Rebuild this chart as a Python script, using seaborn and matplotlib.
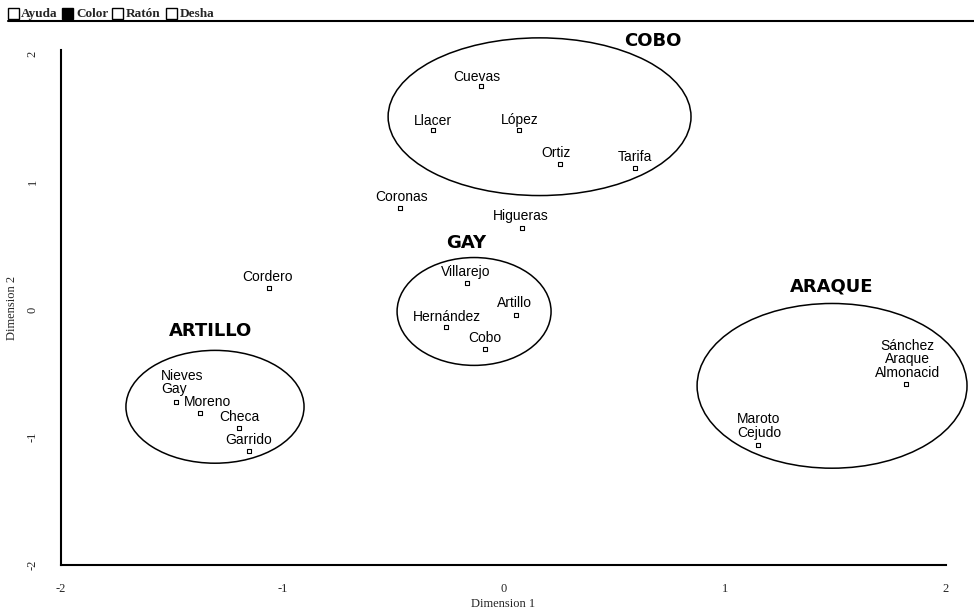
import matplotlib
matplotlib.use("Agg")
import matplotlib.pyplot as plt
from matplotlib.patches import Ellipse, Rectangle
from matplotlib.lines import Line2D
import seaborn as sns
import pandas as pd

# point labels and MDS coordinates
names = ["Cuevas", "Llacer", "López", "Ortiz", "Tarifa", "Coronas", "Higueras",
         "Cordero", "Villarejo", "Artillo", "Hernández", "Cobo",
         "Nieves\nGay", "Moreno", "Checa", "Garrido",
         "Sánchez\nAraque\nAlmonacid", "Maroto\nCejudo"]
dim1 = [-0.10, -0.32, 0.07, 0.255, 0.595, -0.47, 0.085,
        -1.06, -0.165, 0.055, -0.26, -0.085,
        -1.48, -1.37, -1.195, -1.15,
        1.82, 1.15]
dim2 = [1.75, 1.405, 1.405, 1.135, 1.11, 0.79, 0.635,
        0.165, 0.205, -0.04, -0.14, -0.31,
        -0.725, -0.81, -0.93, -1.11,
        -0.58, -1.06]

# clusters drawn as ellipses
cluster_names = ["COBO", "GAY", "ARTILLO", "ARAQUE"]
cluster_cx = [0.163, -0.133, -1.304, 1.485]
cluster_cy = [1.508, -0.016, -0.762, -0.598]
cluster_w = [1.369, 0.696, 0.805, 1.220]
cluster_h = [1.234, 0.844, 0.883, 1.289]
cluster_title_x = [0.676, -0.17, -1.326, 1.485]
cluster_title_y = [2.10, 0.52, -0.165, 0.18]

toolbar_items = ["Ayuda", "Color", "Ratón", "Desha"]

# label placement relative to the marker (pixels): dx, dy, alignment
label_style = {
    "Cuevas": (-5, 5, "center"), "Llacer": (0, 5, "center"), "López": (1, 6, "center"),
    "Ortiz": (-4, 7, "center"), "Tarifa": (0, 7, "center"), "Coronas": (2, 7, "center"),
    "Higueras": (-2, 8, "center"), "Cordero": (-1, 7, "center"),
    "Villarejo": (-1, 7, "center"), "Artillo": (-1, 8, "center"),
    "Hernández": (1, 6, "center"), "Cobo": (0, 7, "center"),
    "Nieves\nGay": (-15, 9, "left"), "Moreno": (7, 7, "center"),
    "Checa": (0, 7, "center"), "Garrido": (0, 7, "center"),
    "Sánchez\nAraque\nAlmonacid": (1, 7, "center"), "Maroto\nCejudo": (1, 8, "center"),
}

df = pd.DataFrame({"name": names, "dim1": dim1, "dim2": dim2})

sns.set_style("white")
plt.rcParams["font.family"] = ["Liberation Sans", "DejaVu Sans"]

W, H = 974, 613
fig = plt.figure(figsize=(W / 100, H / 100), dpi=100)
ax = fig.add_axes([61 / W, 1 - 565 / H, (946 - 61) / W, (565 - 50) / H])

sns.scatterplot(data=df, x="dim1", y="dim2", ax=ax, marker="s", s=10,
                facecolor="white", edgecolor="black", linewidth=0.8, zorder=3)

for n, x, y in zip(names, dim1, dim2):
    dx, dy, ha = label_style[n]
    ax.annotate(n, (x, y), xytext=(dx, dy), textcoords="offset pixels",
                ha=ha, va="baseline", fontsize=10, linespacing=0.95,
                multialignment=ha, color="black")

for name, cx, cy, w, h, tx, ty in zip(cluster_names, cluster_cx, cluster_cy,
                                      cluster_w, cluster_h, cluster_title_x, cluster_title_y):
    ax.add_patch(Ellipse((cx, cy), w, h, fill=False, edgecolor="black",
                         linewidth=1.1, clip_on=False))
    ax.text(tx, ty, name, ha="center", va="center", fontsize=13,
            family="DejaVu Sans", fontweight="bold", color="black", clip_on=False)

ax.set_xlim(-2, 2)
ax.set_ylim(-2, 2.03)
ax.set_xticks([-2, -1, 0, 1, 2])
ax.set_yticks([-2, -1, 0, 1, 2])
ax.set_xticklabels(["-2", "-1", "0", "1", "2"], family="Liberation Serif", fontsize=9)
ax.set_yticklabels(["-2", "-1", "0", "1", "2"], family="Liberation Serif", fontsize=9,
                   rotation=90, va="center")
ax.tick_params(axis="x", direction="out", length=3, width=1, color="black", pad=10)
ax.tick_params(axis="y", direction="out", length=3, width=1, color="black", pad=13)
ax.set_xlabel("Dimension 1", family="Liberation Serif", fontsize=9, labelpad=2)
ax.set_ylabel("Dimension 2", family="Liberation Serif", fontsize=9, labelpad=6)

for side in ["top", "right"]:
    ax.spines[side].set_visible(False)
for side in ["left", "bottom"]:
    ax.spines[side].set_color("black")
    ax.spines[side].set_linewidth(1.5)

# toolbar strip at the top
fig.add_artist(Line2D([8 / W, 1], [1 - 21 / H, 1 - 21 / H], color="black", linewidth=1.5))
box_x = [8, 62, 112, 166]
text_x = [21, 76, 126, 180]
for i, (label, bx, tx) in enumerate(zip(toolbar_items, box_x, text_x)):
    fig.add_artist(Rectangle((bx / W, 1 - 19 / H), 11 / W, 11 / H,
                             facecolor="black" if label == "Color" else "white",
                             edgecolor="black", linewidth=1.0))
    fig.text(tx / W, 1 - 14 / H, label, family="Liberation Serif", fontsize=9.5,
             fontweight="bold", ha="left", va="center")

fig.savefig("out.png", dpi=100)
